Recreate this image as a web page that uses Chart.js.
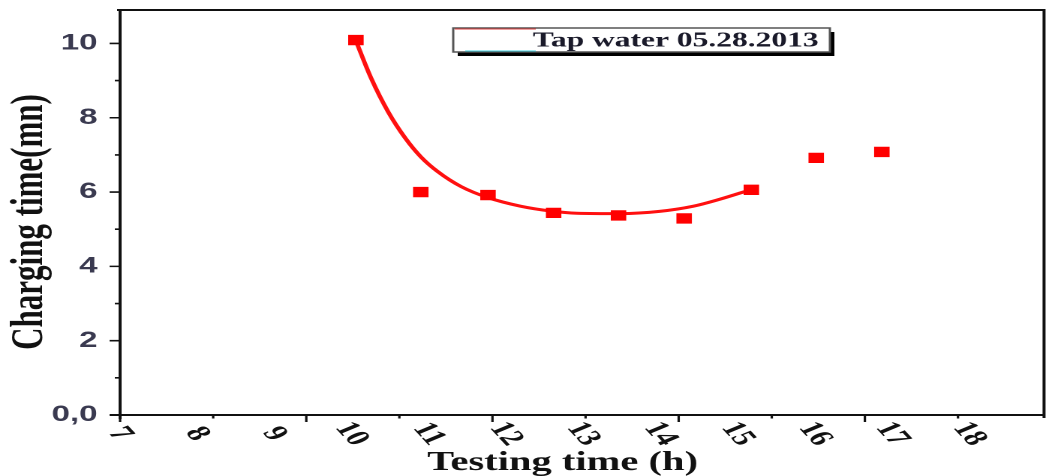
<!DOCTYPE html>
<html>
<head>
<meta charset="utf-8">
<script src="https://cdn.jsdelivr.net/npm/chart.js@4.4.1/dist/chart.umd.min.js"></script>
<style>
html, body { margin: 0; padding: 0; background: #fff; overflow: hidden; }
/* the source figure is stretched sideways, so the chart is drawn narrow and scaled */
#wrap { position: absolute; left: 0; top: 0; width: 703px; height: 476px; transform: scaleX(1.5007); transform-origin: 0 0; }
</style>
</head>
<body>
<div id="wrap"><canvas id="myChart"></canvas></div>
<script>
// measured points: testing time (h) / charging time (mn)
var testHours = [10.0, 10.84, 11.71, 12.56, 13.40, 14.25, 15.12, 15.96, 16.81]
var chargeMin = [10.09, 6.00, 5.92, 5.44, 5.37, 5.29, 6.06, 6.92, 7.08]

// fitted curve
var fitHours = [10.0, 10.20, 10.42, 10.64, 10.84, 11.06, 11.36, 11.71, 12.13, 12.52, 12.86, 13.42, 13.93, 14.37, 14.70, 15.12]
var fitMin = [10.07, 9.05, 8.15, 7.45, 6.95, 6.55, 6.15, 5.85, 5.62, 5.49, 5.43, 5.42, 5.48, 5.62, 5.80, 6.07]

var xLabels = [7, 8, 9, 10, 11, 12, 13, 14, 15, 16, 17, 18]
var yLabels = [0, 2, 4, 6, 8, 10]
var xMarkStep = 1.2055   // spacing of the tick marks on the time axis
var seriesName = 'Tap water 05.28.2013'

var points = testHours.map((h, i) => ({x: h, y: chargeMin[i]}))
var curve = fitHours.map((h, i) => ({x: h, y: fitMin[i]}))

const frame = {
  id: 'frame',
  afterDraw(chart) {
    const ctx = chart.ctx, a = chart.chartArea
    const xs = chart.scales.x, ys = chart.scales.y
    ctx.save()
    ctx.strokeStyle = '#111'
    ctx.lineWidth = 2
    ctx.beginPath()
    ctx.moveTo(a.left - 2, a.top); ctx.lineTo(a.right + 1, a.top)
    ctx.moveTo(a.right, a.top); ctx.lineTo(a.right, a.bottom + 3)
    ctx.moveTo(a.left - 7, a.bottom); ctx.lineTo(a.right, a.bottom)
    ctx.moveTo(a.left, a.top); ctx.lineTo(a.left, a.bottom + 4)
    ctx.stroke()

    // tick marks
    ctx.lineWidth = 1.6
    ctx.beginPath()
    yLabels.forEach(v => {
      let py = ys.getPixelForValue(v)
      ctx.moveTo(a.left, py); ctx.lineTo(a.left - 7, py)
      if (v + 1 < ys.max) {
        py = ys.getPixelForValue(v + 1)
        ctx.moveTo(a.left, py); ctx.lineTo(a.left - 3.5, py)
      }
    })
    for (let k = 0; xs.min + k * xMarkStep <= xs.max + 0.05; k++) {
      const px = xs.getPixelForValue(xs.min + k * xMarkStep)
      ctx.moveTo(px, a.bottom); ctx.lineTo(px, a.bottom + (k % 2 ? 3.5 : 7))
    }
    ctx.stroke()

    // x tick labels, turned clockwise
    ctx.fillStyle = '#111'
    ctx.font = 'bold 23px "Liberation Serif"'
    ctx.textAlign = 'center'
    ctx.textBaseline = 'middle'
    xLabels.forEach(h => {
      ctx.save()
      ctx.translate(xs.getPixelForValue(h) - 3, a.bottom + 19)
      ctx.rotate(58 * Math.PI / 180)
      ctx.fillText(String(h), 0, 0)
      ctx.restore()
    })

    // axis titles
    ctx.font = 'bold 27px "Liberation Serif"'
    ctx.fillText('Testing time (h)', (a.left + a.right) / 2 - 13, 463)
    ctx.save()
    ctx.translate(20, 222)
    ctx.rotate(-Math.PI / 2)
    ctx.font = 'bold 31px "Liberation Serif"'
    ctx.fillText('Charging time(mn)', 0, 0)
    ctx.restore()

    // legend box
    const lx = 302, ly = 28, lw = 251, lh = 24
    ctx.fillStyle = '#000'
    ctx.fillRect(lx + 3, ly + 4, lw, lh)
    ctx.fillStyle = '#fff'
    ctx.fillRect(lx, ly, lw, lh)
    ctx.strokeStyle = '#555'
    ctx.lineWidth = 1.5
    ctx.strokeRect(lx, ly, lw, lh)
    ctx.lineWidth = 1
    ctx.strokeStyle = '#e04040'
    ctx.beginPath(); ctx.moveTo(lx + 1, ly + 1); ctx.lineTo(lx + 55, ly + 1); ctx.stroke()
    ctx.strokeStyle = '#40d0e0'
    ctx.beginPath(); ctx.moveTo(lx + 8, ly + lh - 1); ctx.lineTo(lx + 55, ly + lh - 1); ctx.stroke()
    ctx.fillStyle = '#1a1a2a'
    ctx.font = 'bold 21px "Liberation Serif"'
    ctx.textAlign = 'left'
    ctx.fillText(seriesName, lx + 53, ly + lh / 2 + 1)
    ctx.restore()
  }
}

const ctx = document.getElementById('myChart')
const chart1 = new Chart(ctx, {
  type: 'scatter',
  data: {
    datasets: [{
      label: seriesName,
      data: points,
      pointStyle: 'rect',
      pointRadius: 7.3,
      backgroundColor: '#ff0000',
      borderColor: '#ff0000',
      borderWidth: 0,
      showLine: false
    }, {
      label: 'fit',
      data: curve,
      showLine: true,
      pointRadius: 0,
      borderColor: '#ff1010',
      borderWidth: 3,
      cubicInterpolationMode: 'monotone',
      fill: false
    }]
  },
  options: {
    responsive: true,
    maintainAspectRatio: false,
    devicePixelRatio: 2,
    animation: false,
    layout: {padding: {left: 0, right: 3, top: 10, bottom: 0}},
    plugins: {legend: {display: false}, tooltip: {enabled: false}},
    scales: {
      x: {
        type: 'linear',
        min: 6.946,
        max: 18.91,
        grid: {display: false, drawTicks: false},
        border: {display: false},
        ticks: {display: false},
        afterFit: s => { s.height = 61; s.paddingLeft = 0; s.paddingRight = 0 }
      },
      y: {
        min: 0,
        max: 10.9,
        grid: {display: false, drawTicks: false},
        border: {display: false},
        ticks: {
          stepSize: 2,
          includeBounds: false,
          padding: 15,
          color: '#3a3a50',
          font: {family: 'Liberation Sans', size: 22, weight: 'bold'},
          callback: v => v === 0 ? '0,0' : String(v)
        },
        afterFit: s => { s.width = 80; s.paddingTop = 0; s.paddingBottom = 0 }
      }
    }
  },
  plugins: [frame]
});
</script>
</body>
</html>
